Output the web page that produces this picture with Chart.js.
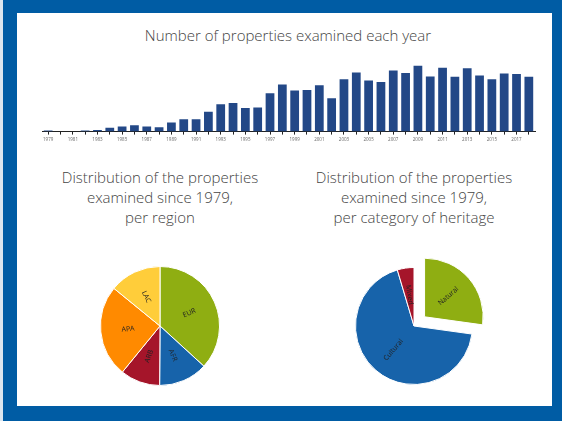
<!DOCTYPE html>
<html>
<head>
<meta charset="utf-8">
<script src="https://cdn.jsdelivr.net/npm/chart.js@4.4.1/dist/chart.umd.min.js"></script>
<style>
  html, body { margin: 0; padding: 0; }
  body { width: 562px; height: 421px; position: relative; overflow: hidden; background: #dce6ef; font-family: 'Open Sans', sans-serif; }
  .frame { position: absolute; left: 3px; top: 0; width: 559px; height: 421px; background: #005ca4; }
  .panel { position: absolute; left: 17px; top: 13px; width: 535px; height: 393px; background: #fff; }
  .title { position: absolute; text-align: center; color: #444; font-weight: 300; font-size: 15px; line-height: 20px; white-space: nowrap; }
  .box { position: absolute; }
</style>
</head>
<body>
<div class="frame"></div>
<div class="panel"></div>

<div class="title" style="left:88px; top:25px; width:400px;">Number of properties examined each year</div>
<div class="title" style="left:40px; top:167px; width:240px;">Distribution of the properties<br>examined since 1979,<br>per region</div>
<div class="title" style="left:294px; top:167px; width:240px;">Distribution of the properties<br>examined since 1979,<br>per category of heritage</div>

<div class="box" style="left:36px; top:55px;"><canvas id="years-chart" width="505" height="89"></canvas></div>
<div class="box" style="left:100px; top:266px;"><canvas id="region-chart" width="120" height="120"></canvas></div>
<div class="box" style="left:327px; top:239px;"><canvas id="category-chart" width="174" height="174"></canvas></div>

<script>
/* ===== DATA ===== */
const years = [1979, 1980, 1981, 1982, 1983, 1984, 1985, 1986, 1987, 1988,
               1989, 1990, 1991, 1992, 1993, 1994, 1995, 1996, 1997, 1998,
               1999, 2000, 2001, 2002, 2003, 2004, 2005, 2006, 2007, 2008,
               2009, 2010, 2011, 2012, 2013, 2014, 2015, 2016, 2017, 2018];
const examined = [1, 0, 0, 1, 1.5, 3.7, 5, 6.3, 5, 4.3,
                  9, 12.3, 12.3, 19.7, 27, 28.3, 23.3, 24, 38, 46.7,
                  40.7, 41.3, 46, 33, 52, 58.7, 50.7, 49.3, 60.7, 58,
                  65.3, 54.7, 63.3, 54.3, 62.7, 55.7, 52, 57.7, 57, 54.3];

const regions = ['EUR', 'AFR', 'ARB', 'APA', 'LAC'];
const regionShare = [36.8, 13.3, 10.8, 25, 14.1];
const regionColors = ['#8fae12', '#1763aa', '#a5152a', '#ff8a00', '#ffcd3a'];

const categories = ['Natural', 'Cultural', 'Mixed'];
const categoryShare = [27.2, 68.2, 4.6];
const categoryColors = ['#8fae12', '#1763aa', '#a5152a'];
const categoryOffsets = [56, 0, 0];   // arc offset (drawn at 1/4 by Chart.js)

// Radial labels inside pie slices, flipped so they never read upside down
const sliceLabels = {
    id: 'sliceLabels',
    afterDatasetsDraw(chart) {
        const ctx = chart.ctx;
        const labels = chart.data.labels;
        ctx.save();
        ctx.font = '7px "Open Sans", sans-serif';
        ctx.fillStyle = '#222';
        ctx.textAlign = 'center';
        ctx.textBaseline = 'middle';
        chart.getDatasetMeta(0).data.forEach((arc, i) => {
            const mid = (arc.startAngle + arc.endAngle) / 2;
            const r = arc.outerRadius * 0.54 + (arc.options.offset || 0) / 4;
            let rot = mid;
            if (Math.cos(mid) < 0) rot += Math.PI;
            ctx.save();
            ctx.translate(arc.x + Math.cos(mid) * r, arc.y + Math.sin(mid) * r);
            ctx.rotate(rot);
            ctx.fillText(labels[i], 0, 0);
            ctx.restore();
        });
        ctx.restore();
    }
};

const pieOptions = {
    responsive: false,
    animation: false,
    layout: { padding: 0 },
    plugins: { legend: { display: false }, tooltip: { enabled: false } }
};

new Chart(document.getElementById('years-chart'), {
    type: 'bar',
    data: {
        labels: years,
        datasets: [{
            data: examined,
            backgroundColor: '#234887',
            borderWidth: 0,
            barPercentage: 0.71,
            categoryPercentage: 1
        }]
    },
    options: {
        responsive: false,
        animation: false,
        layout: { padding: { left: 6, right: 6, top: 6, bottom: 0 } },
        plugins: { legend: { display: false }, tooltip: { enabled: false } },
        scales: {
            y: { display: false, min: 0, max: 70 },
            x: {
                grid: { offset: false, drawOnChartArea: false, drawTicks: true, tickLength: 3, color: '#222' },
                border: { display: true, color: '#222', width: 1 },
                ticks: {
                    autoSkip: false,
                    maxRotation: 0,
                    padding: 2,
                    color: '#666',
                    font: { size: 4.5, family: 'Open Sans' },
                    callback: (v, i) => i % 2 === 0 ? years[i] : ''
                }
            }
        }
    }
});

new Chart(document.getElementById('region-chart'), {
    type: 'pie',
    data: {
        labels: regions,
        datasets: [{ data: regionShare, backgroundColor: regionColors, borderColor: '#fff', borderWidth: 1 }]
    },
    options: pieOptions,
    plugins: [sliceLabels]
});

new Chart(document.getElementById('category-chart'), {
    type: 'pie',
    data: {
        labels: categories,
        datasets: [{ data: categoryShare, backgroundColor: categoryColors, borderColor: '#fff', borderWidth: 1, offset: categoryOffsets }]
    },
    options: pieOptions,
    plugins: [sliceLabels]
});
</script>
</body>
</html>
